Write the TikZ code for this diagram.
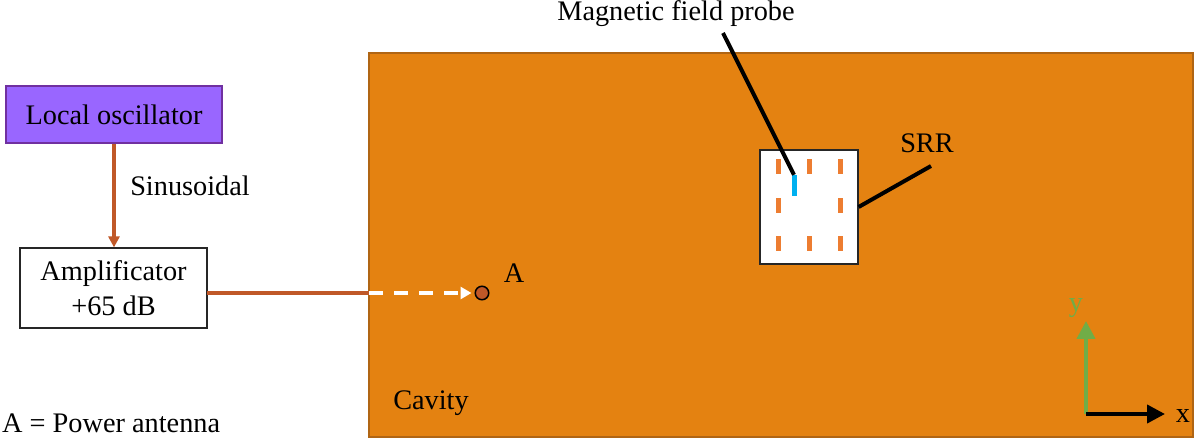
\documentclass[tikz,border=0pt]{standalone}
\usepackage{fontspec}
\setmainfont{Liberation Serif}
\usetikzlibrary{arrows.meta}
\definecolor{cavityorange}{RGB}{228,130,17}
\definecolor{cavityedge}{RGB}{176,101,20}
\definecolor{wirebrown}{RGB}{192,88,40}
\definecolor{oscpurple}{RGB}{153,102,255}
\definecolor{oscedge}{RGB}{112,48,160}
\definecolor{slitorange}{RGB}{237,125,49}
\definecolor{probeblue}{RGB}{0,176,240}
\definecolor{axisgreen}{RGB}{112,173,71}
\begin{document}
\begin{tikzpicture}[x=1pt,y=-1pt,font=\fontsize{28.3}{33}\selectfont,
    main node/.style={draw,inner sep=0pt,align=center,line width=1.2pt},
    label node/.style={inner sep=0pt,align=center},
    slit node/.style={fill=slitorange,inner sep=0pt,minimum width=5pt,minimum height=15pt},
    pointer/.style={draw=black,line width=4pt}]
    \useasboundingbox (0,0) rectangle (1200,438);
    % cavity
    \node[main node,fill=cavityorange,draw=cavityedge,minimum width=824pt,minimum height=384pt] (cavity) at (781,245) {};
    \node[label node] (cavitylabel) at (431,403) {Cavity};
    % sources
    \node[main node,fill=oscpurple,draw=oscedge,minimum width=216pt,minimum height=57pt] (osc) at (114,114.5) {Local oscillator};
    \node[main node,fill=white,draw=black!85,minimum width=187pt,minimum height=80pt] (amp) at (113.5,288) {Amplificator\\[2pt]+65 dB};
    \node[label node] (sinus) at (190,186) {Sinusoidal};
    % feed line
    \coordinate (wall) at (369,293);
    \coordinate (amport) at (207,293);
    \node[circle,draw=black,fill=wirebrown,line width=1.5pt,minimum size=13.5pt,inner sep=0pt] (antenna) at (482,293) {};
    \node[label node] (antennalabel) at (514,273) {A};
    \begin{scope}[color=wirebrown]
      \path[draw,line width=4pt,-{Triangle[length=11pt,width=11pt]}] (osc) edge (amp.north -| osc);
      \draw[line width=4pt] (amport) -- (wall);
    \end{scope}
    \draw[white,line width=4pt,dash pattern=on 14pt off 11pt,shorten >=3pt,-{Triangle[length=11pt,width=12pt]}] (wall) -- (antenna.west);
    % SRR
    \node[main node,fill=white,draw=black!85,minimum width=98pt,minimum height=114pt] (srr) at (809,207) {};
    \foreach \x/\y in {778/167,809/167,840/167,778/206,840/206,778/244,809/244,840/244}
      \node[slit node] (slit\x\y) at (\x,\y) {};
    \node[fill=probeblue,inner sep=0pt,minimum width=5pt,minimum height=21pt] (probe) at (794,185.5) {};
    \node[label node] (probelabel) at (676,13.5) {Magnetic field probe};
    \coordinate (probestart) at (723,33);
    \draw[pointer] (probestart) -- (probe.north);
    \node[label node] (srrlabel) at (927,143) {SRR};
    \coordinate (srrend) at (931,166);
    \draw[pointer] (srr.east) -- (srrend);
    % axes
    \coordinate (origin) at (1086,414);
    \coordinate (ytip) at (1086,321);
    \coordinate (xtip) at (1165,414);
    \begin{scope}[color=axisgreen]
      \draw[line width=4pt,-{Triangle[length=18pt,width=18pt]}] (origin) -- (ytip);
    \end{scope}
    \draw[black,line width=4pt,-{Triangle[length=18pt,width=18pt]}] (origin) -- (xtip);
    \node[label node,text=axisgreen] (ylabel) at (1076,308) {y};
    \node[label node] (xlabel) at (1183,416) {x};
    % legend
    \node[label node,anchor=west] (legend) at (2,423) {A = Power antenna};
\end{tikzpicture}
\end{document}
